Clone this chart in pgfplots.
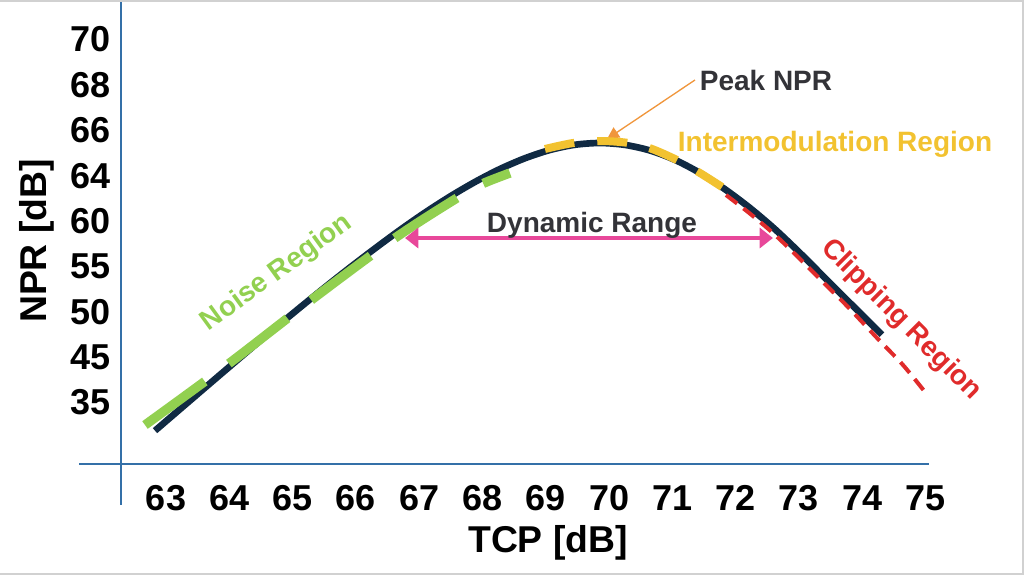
\documentclass[border=0pt]{standalone}
\usepackage{fontspec}
\setmainfont{Liberation Sans}
\usepackage{pgfplots}
\pgfplotsset{compat=1.18}
\usetikzlibrary{arrows.meta}
\definecolor{navyc}{HTML}{102A43}
\definecolor{greenc}{HTML}{92D050}
\definecolor{yellowc}{HTML}{F2C230}
\definecolor{redc}{HTML}{E02B2B}
\definecolor{pinkc}{HTML}{E8489A}
\definecolor{orangec}{HTML}{F0963C}
\definecolor{axisblue}{HTML}{3470A8}
\definecolor{darktext}{HTML}{333338}
\begin{document}
\begin{tikzpicture}
\path[use as bounding box] (0,0) rectangle (768pt,431.25pt);
\begin{axis}[
  at={(90.75pt,83.25pt)}, anchor=south west,
  scale only axis, width=606pt, height=348pt,
  xmin=62.289, xmax=75.054, ymin=-1.366, ymax=8.855,
  axis line style={draw=none},
  clip=false,
  xtick={63,64,65,66,67,68,69,70,71,72,73,74,75},
  xticklabels={63,64,65,66,67,68,69,70,71,72,73,74,75},
  ytick={0,1,2,3,4,5,6,7,8},
  yticklabels={35,45,50,55,60,64,66,68,70},
  major tick length=0pt,
  tick style={draw=none},
  ticklabel style={font=\fontsize{27}{27}\selectfont\bfseries, text=black, text height=19.5pt, text depth=0pt},
  xticklabel style={yshift=-11.5pt},
  yticklabel style={xshift=-4.5pt},
  /pgf/number format/assume math mode=true,
  xlabel={TCP [dB]}, ylabel={NPR [dB]},
  label style={font=\fontsize{28}{28}\selectfont\bfseries, text=black},
  xlabel style={at={(axis description cs:0.5285,-0.1703)}, anchor=center},
  ylabel style={at={(axis description cs:-0.1040,0.4806)}, anchor=center},
]
% main NPR curve
\addplot[navyc, line width=5pt, smooth, mark=none] coordinates {
(62.826,-0.632) (63.142,-0.253) (63.537,0.220) (63.932,0.692) (64.327,1.161)
(64.722,1.626) (65.117,2.081) (65.512,2.528) (65.907,2.963) (66.302,3.383)
(66.697,3.789) (67.092,4.172) (67.487,4.526) (67.882,4.848) (68.276,5.132)
(68.671,5.369) (69.066,5.551) (69.461,5.666) (69.856,5.705) (70.251,5.663)
(70.646,5.540) (71.041,5.333) (71.436,5.044) (71.831,4.686) (72.226,4.273)
(72.621,3.805) (73.016,3.282) (73.411,2.731) (73.806,2.181) (74.311,1.482)
};
% clipping region
\addplot[redc, line width=3pt, smooth, mark=none, dash pattern=on 10.5pt off 6pt] coordinates {
(71.847,4.559) (72.194,4.185) (72.589,3.722) (72.984,3.194) (73.379,2.643)
(73.774,2.093) (74.248,1.388) (74.643,0.815) (74.991,0.220)
};
% noise region
\addplot[greenc, line width=7pt, smooth, mark=none, dash pattern=on 55.5pt off 22.5pt] coordinates {
(62.668,-0.507) (63.964,0.815) (65.275,2.225) (66.618,3.612) (67.597,4.493) (67.992,4.802) (68.434,5.044)
};
% peak arrow
\draw[orangec, line width=1pt, -{Triangle[length=9pt,width=9pt]}] (axis cs:71.357,7.093) -- (axis cs:69.967,5.793);
% intermodulation region
\addplot[yellowc, line width=6pt, smooth, mark=none, dash pattern=on 22.5pt off 17.25pt] coordinates {
(68.987,5.573) (69.430,5.705) (69.856,5.749) (70.283,5.710) (70.646,5.590) (71.073,5.330) (71.436,5.044) (71.784,4.736)
};
% dynamic range arrow
\draw[pinkc, line width=3pt, {Triangle[length=10pt,width=15pt]}-{Triangle[length=10pt,width=15pt]}] (axis cs:66.776,3.612) -- (axis cs:72.589,3.612);
% labels
\node[font=\fontsize{21}{21}\selectfont\bfseries, text=darktext, anchor=base] at (axis cs:72.479,6.872) {Peak NPR};
\node[font=\fontsize{21}{21}\selectfont\bfseries, text=yellowc, anchor=base] at (axis cs:73.569,5.507) {Intermodulation Region};
\node[font=\fontsize{21}{21}\selectfont\bfseries, text=darktext, anchor=base] at (axis cs:69.730,3.744) {Dynamic Range};
\node[font=\fontsize{21}{21}\selectfont\bfseries, text=greenc, rotate=36] at (axis cs:64.754,2.841) {Noise Region};
\node[font=\fontsize{21}{21}\selectfont\bfseries, text=redc, rotate=-45] at (axis cs:74.611,1.806) {Clipping Region};
% axis lines
\draw[axisblue, line width=1.1pt] (axis cs:61.626,-1.366) -- (axis cs:75.054,-1.366);
\draw[axisblue, line width=1.1pt] (axis cs:62.289,8.855) -- (axis cs:62.289,-2.269);
\end{axis}
\draw[black!18, line width=1.5pt] (0,430.5pt) -- (767.25pt,430.5pt) -- (767.25pt,0.75pt) -- (0,0.75pt);
\end{tikzpicture}
\end{document}
